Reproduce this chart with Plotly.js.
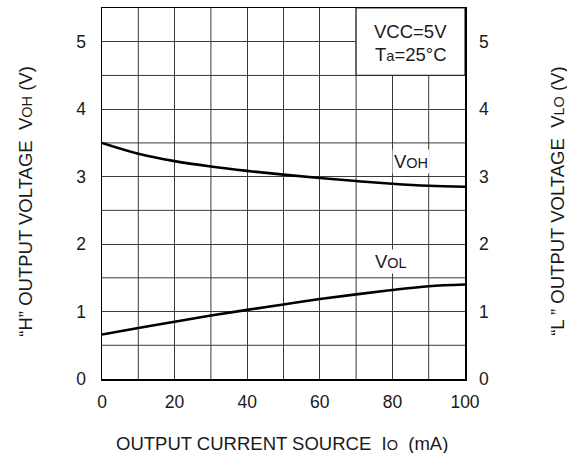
<!DOCTYPE html>
<html>
<head>
<meta charset="utf-8">
<script src="https://cdn.plot.ly/plotly-3.0.1.min.js"></script>
<style>html,body{margin:0;padding:0;background:#fff;}#chart{width:567px;height:453px;}</style>
</head>
<body>
<div id="chart"></div>
<script>
// Output current source Io (mA)
const currentMA = [0, 10, 20, 30, 40, 50, 60, 70, 80, 90, 100];
// "H" output voltage VOH (V) — left axis
const voh = [3.50, 3.34, 3.23, 3.15, 3.085, 3.03, 2.98, 2.935, 2.895, 2.865, 2.85];
// "L" output voltage VOL (V) — right axis
const vol = [0.66, 0.755, 0.85, 0.94, 1.025, 1.105, 1.185, 1.255, 1.32, 1.375, 1.40];
const xTicks = [0, 20, 40, 60, 80, 100];
const yTicks = [0, 1, 2, 3, 4, 5];

const FAM = 'Liberation Sans, Arial, sans-serif';
const font = {family: FAM, size: 17.5, color: '#1a1a1a'};
const tfont = {family: FAM, size: 18.5, color: '#1a1a1a'};
const sm = s => '<span style="font-size:14.5px">' + s + '</span>';

const traces = [
  {x: currentMA, y: voh, mode: 'lines', line: {color: '#000', width: 2.6, shape: 'spline', smoothing: 1}, name: 'VOH', xaxis: 'x', yaxis: 'y'},
  {x: currentMA, y: vol, mode: 'lines', line: {color: '#000', width: 2.6, shape: 'spline', smoothing: 1}, name: 'VOL', xaxis: 'x', yaxis: 'y2'}
];

const base = {zeroline: false, showline: true, linecolor: '#000', linewidth: 1.5, ticks: '', tickfont: font, fixedrange: true};

const layout = {
  width: 567, height: 453,
  margin: {l: 101.5, r: 102, t: 8, b: 74},
  paper_bgcolor: '#fff', plot_bgcolor: '#fff',
  showlegend: false,
  font: font,
  xaxis: Object.assign({}, base, {range: [0, 100], showgrid: true, gridcolor: '#3a3a3a', gridwidth: 1, dtick: 10, tickvals: xTicks, ticktext: xTicks.map(String), mirror: true, ticklabelstandoff: 6}),
  yaxis: Object.assign({}, base, {range: [0, 5.5], showgrid: true, gridcolor: '#3a3a3a', gridwidth: 1, tickvals: yTicks, ticktext: yTicks.map(String), mirror: true, ticklabelstandoff: 11}),
  yaxis2: Object.assign({}, base, {range: [0, 5.5], overlaying: 'y', side: 'right', showgrid: false, tickvals: yTicks, ticktext: yTicks.map(String), ticklabelstandoff: 9}),
  shapes: [
    // intermediate gridlines every 10 mA and every 0.5 V
    ...[10, 30, 50, 70, 90].map(v => ({type: 'line', xref: 'x', yref: 'y', x0: v, x1: v, y0: 0, y1: 5.5, line: {color: '#3a3a3a', width: 1}, layer: 'below'})),
    ...[0.5, 1.5, 2.5, 3.5, 4.5].map(v => ({type: 'line', xref: 'x', yref: 'y', x0: 0, x1: 100, y0: v, y1: v, line: {color: '#3a3a3a', width: 1}, layer: 'below'})),
    // condition box (covers the grid)
    {type: 'rect', xref: 'x', yref: 'y', x0: 70, x1: 100, y0: 4.5, y1: 5.5, fillcolor: '#fff', line: {color: '#2a2a2a', width: 1.2}, layer: 'above'}
  ],
  annotations: [
    {xref: 'x', yref: 'y', x: 85, y: 5.15, text: 'VCC=5V', showarrow: false, font: tfont},
    {xref: 'x', yref: 'y', x: 85, y: 4.81, text: 'T' + sm('a') + '=25°C', showarrow: false, font: tfont},
    {xref: 'x', yref: 'y', x: 85.1, y: 3.22, text: 'V' + sm('OH'), showarrow: false, font: tfont, bgcolor: '#fff'},
    {xref: 'x', yref: 'y', x: 79.6, y: 1.74, text: 'V' + sm('OL'), showarrow: false, font: tfont, bgcolor: '#fff'},
    {xref: 'paper', yref: 'paper', x: -0.21, y: 0.48, xanchor: 'center', yanchor: 'middle', textangle: -90, showarrow: false, font: tfont,
     text: '“H” OUTPUT VOLTAGE  V' + sm('OH') + ' (V)'},
    {xref: 'paper', yref: 'paper', x: 1.256, y: 0.48, xanchor: 'center', yanchor: 'middle', textangle: -90, showarrow: false, font: tfont,
     text: '“L ” OUTPUT VOLTAGE  V' + sm('LO') + ' (V)'},
    {xref: 'paper', yref: 'paper', x: 0.497, y: -0.173, xanchor: 'center', yanchor: 'middle', showarrow: false, font: tfont,
     text: 'OUTPUT CURRENT SOURCE  I' + sm('O') + '  (mA)'}
  ]
};

Plotly.newPlot('chart', traces, layout, {staticPlot: true, displayModeBar: false});
</script>
</body>
</html>
